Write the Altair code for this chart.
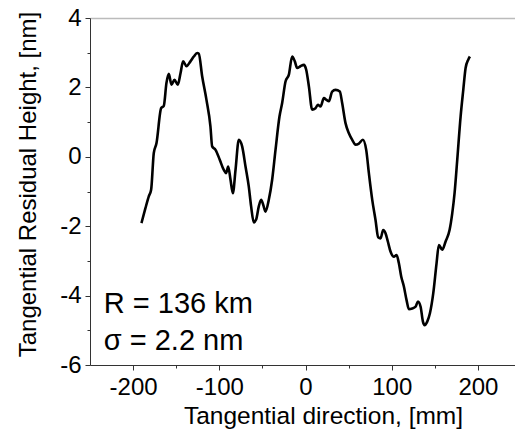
import altair as alt
import pandas as pd

xs = [-190.3, -185.7, -181.8, -179.1, -176.0, -172.9, -167.5, -164.4, -161.3, -158.6,
      -155.5, -152.0, -148.2, -145.0, -142.0, -138.1, -133.5, -129.6, -125.7, -123.8,
      -119.9, -114.9, -110.3, -108.3, -104.4, -99.4, -94.8, -92.1, -89.7, -87.0,
      -84.3, -81.2, -77.4, -73.5, -69.6, -65.8, -63.1, -60.0, -57.3, -54.2,
      -51.5, -49.1, -46.4, -42.6, -38.7, -34.8, -30.2, -27.1, -23.2, -19.3,
      -15.5, -12.4, -9.7, -5.8, -1.9, 0.8, 3.9, 7.7, 11.6, 14.3,
      17.4, 21.3, 24.4, 27.1, 30.9, 34.8, 39.8, 42.5, 46.4, 50.3,
      54.2, 58.0, 61.9, 66.5, 70.4, 73.5, 77.4, 81.2, 84.3, 87.0,
      90.1, 92.8, 95.5, 98.6, 102.5, 105.6, 108.3, 111.0, 114.1, 117.2,
      119.9, 123.8, 127.7, 130.4, 133.5, 136.2, 138.1, 141.2, 144.3, 148.2,
      152.0, 154.7, 158.6, 162.5, 167.1, 170.2, 172.9, 176.0, 179.9, 183.0,
      185.7, 188.8, 190.7]
ys = [-1.91, -1.48, -1.14, -0.95, 0.11, 0.39, 1.40, 1.47, 2.13, 2.39,
      2.08, 2.22, 2.08, 2.41, 2.75, 2.61, 2.75, 2.89, 2.99, 2.97,
      2.32, 1.64, 0.88, 0.30, 0.20, -0.09, -0.38, -0.47, -0.28, -0.66,
      -1.05, -0.38, 0.49, 0.30, -0.28, -0.86, -1.43, -1.89, -1.81, -1.43,
      -1.24, -1.38, -1.58, -1.24, -0.66, 0.20, 1.16, 1.55, 2.17, 2.37,
      2.89, 2.75, 2.56, 2.61, 2.65, 2.51, 2.03, 1.36, 1.40, 1.50,
      1.45, 1.69, 1.64, 1.60, 1.88, 1.93, 1.88, 1.55, 0.97, 0.68,
      0.49, 0.35, 0.38, 0.49, 0.20, -0.47, -1.24, -1.82, -2.32, -2.35,
      -2.11, -2.20, -2.44, -2.73, -2.88, -2.83, -3.07, -3.45, -3.74, -4.13,
      -4.39, -4.37, -4.32, -4.17, -4.32, -4.75, -4.85, -4.75, -4.51, -3.93,
      -3.07, -2.54, -2.68, -2.44, -2.11, -1.63, -1.05, -0.09, 1.16, 1.93,
      2.56, 2.80, 2.89]

labels = ["R = 136 km", "σ = 2.2 nm"]
label_x = [-234, -234]
label_y = [-4.5, -5.57]

x_major = [-200, -100, 0, 100, 200]
x_minor = [-150, -50, 50, 150]
y_major = [-6, -4, -2, 0, 2, 4]
y_minor = [-5, -3, -1, 1, 3]

FONT = "Liberation Sans"
df = pd.DataFrame({"x": xs, "y": ys})
tdf = pd.DataFrame({"x": label_x, "y": label_y, "t": labels})

xscale = alt.Scale(domain=[-250, 243], nice=False, zero=False)
yscale = alt.Scale(domain=[-6, 4], nice=False, zero=False)

base = alt.Chart(df)

line = base.mark_line(color="black", strokeWidth=2.6, interpolate="monotone").encode(
    x=alt.X("x:Q", scale=xscale, axis=alt.Axis(
        orient="bottom", values=x_major, title="Tangential direction, [mm]",
        labelExpr="'' + datum.value",
        tickSize=5, labelPadding=5, labelFontSize=24, titleFontSize=24.5,
        labelFont=FONT, titleFont=FONT, labelColor="black", titleColor="black",
        titleFontWeight="normal", domainColor="#333", tickColor="#333",
        grid=False, labelFlush=False, titlePadding=5, titleX=233)),
    y=alt.Y("y:Q", scale=yscale, axis=alt.Axis(
        orient="left", values=y_major, title="Tangential Residual Height, [nm]",
        labelExpr="'' + datum.value",
        tickSize=5, labelPadding=4, labelFontSize=24, titleFontSize=24,
        labelFont=FONT, titleFont=FONT, labelColor="black", titleColor="black",
        titleFontWeight="normal", domainColor="#333", tickColor="#333",
        grid=False, labelFlush=False, titlePadding=19, titleY=166)),
)

minor = base.mark_line(opacity=0).encode(
    x=alt.X("x:Q", scale=xscale, axis=alt.Axis(
        orient="bottom", values=x_minor, labels=False, title=None, tickSize=3,
        domain=False, grid=False, tickColor="#333")),
    y=alt.Y("y:Q", scale=yscale, axis=alt.Axis(
        orient="left", values=y_minor, labels=False, title=None, tickSize=3,
        domain=False, grid=False, tickColor="#333")),
)

top = base.mark_line(opacity=0).encode(
    x=alt.X("x:Q", scale=xscale, axis=alt.Axis(
        orient="top", labels=False, ticks=False, title=None, grid=False,
        domainColor="#bbbbbb", domainWidth=1.5)),
    y=alt.Y("y:Q", scale=yscale, axis=None),
)

text = alt.Chart(tdf).mark_text(
    align="left", baseline="alphabetic", fontSize=29, font=FONT, color="black"
).encode(
    x=alt.X("x:Q", scale=xscale, axis=None),
    y=alt.Y("y:Q", scale=yscale, axis=None),
    text="t:N",
)

chart = alt.layer(line, minor, top, text).resolve_axis(
    x="independent", y="independent"
).properties(
    width=425, height=347,
    autosize=alt.AutoSizeParams(type="none"),
    padding={"left": 90, "top": 18, "right": 0, "bottom": 75},
).configure_view(stroke=None).configure(background="white")

chart.save("out.html", embed_options={"renderer": "svg", "actions": False})
